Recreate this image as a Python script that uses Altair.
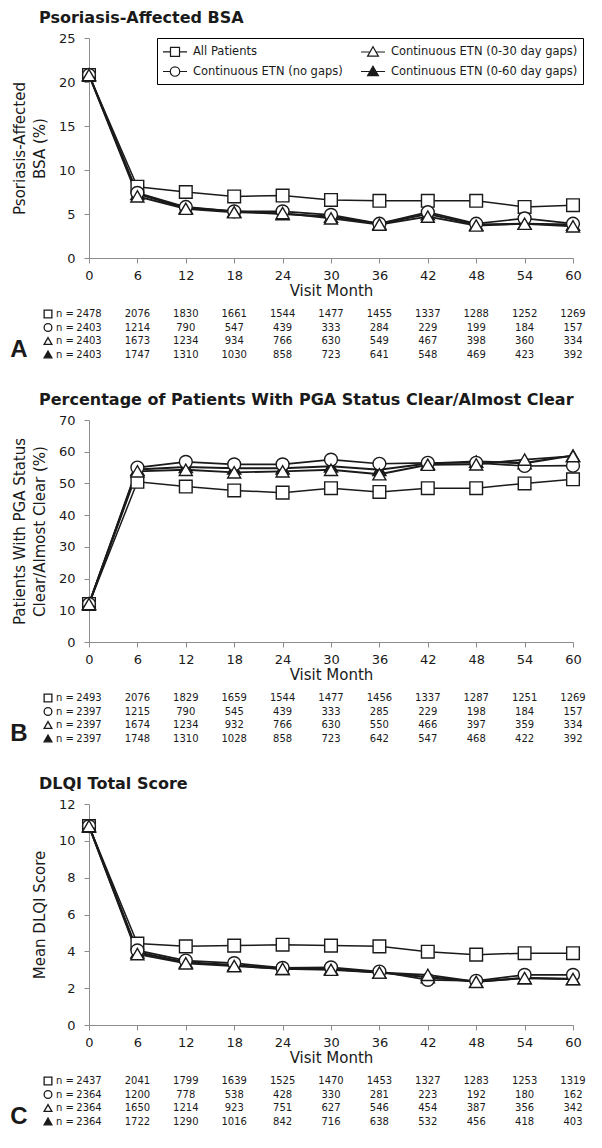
import altair as alt
import pandas as pd

FONT = "DejaVu Sans"
INK = "#1a1a1a"

months = [0, 6, 12, 18, 24, 30, 36, 42, 48, 54, 60]
series_names = ["All Patients", "Continuous ETN (no gaps)",
                "Continuous ETN (0-30 day gaps)", "Continuous ETN (0-60 day gaps)"]

# Panel A: Psoriasis-affected BSA (%)
bsa_all = [20.8, 8.1, 7.5, 7.0, 7.1, 6.6, 6.5, 6.5, 6.5, 5.8, 6.0]
bsa_nogap = [20.8, 7.4, 5.8, 5.3, 5.3, 4.9, 3.9, 5.2, 3.9, 4.5, 3.9]
bsa_030 = [20.8, 7.0, 5.6, 5.2, 5.1, 4.5, 3.8, 4.7, 3.7, 3.9, 3.6]
bsa_060 = [20.8, 7.3, 5.7, 5.3, 5.0, 4.7, 3.9, 5.0, 3.8, 3.9, 3.8]
n_a_all = [2478, 2076, 1830, 1661, 1544, 1477, 1455, 1337, 1288, 1252, 1269]
n_a_nogap = [2403, 1214, 790, 547, 439, 333, 284, 229, 199, 184, 157]
n_a_030 = [2403, 1673, 1234, 934, 766, 630, 549, 467, 398, 360, 334]
n_a_060 = [2403, 1747, 1310, 1030, 858, 723, 641, 548, 469, 423, 392]

# Panel B: PGA clear/almost clear (%)
pga_all = [12.0, 50.5, 49.0, 47.8, 47.1, 48.5, 47.3, 48.5, 48.5, 50.0, 51.3]
pga_nogap = [12.0, 55.0, 56.8, 56.0, 56.0, 57.5, 56.2, 56.5, 56.5, 55.5, 55.6]
pga_030 = [12.0, 53.8, 54.3, 53.5, 53.8, 54.3, 52.9, 55.9, 56.0, 57.5, 58.6]
pga_060 = [12.0, 54.4, 55.2, 54.8, 54.8, 55.4, 54.3, 56.3, 56.9, 56.4, 58.8]
n_b_all = [2493, 2076, 1829, 1659, 1544, 1477, 1456, 1337, 1287, 1251, 1269]
n_b_nogap = [2397, 1215, 790, 545, 439, 333, 285, 229, 198, 184, 157]
n_b_030 = [2397, 1674, 1234, 932, 766, 630, 550, 466, 397, 359, 334]
n_b_060 = [2397, 1748, 1310, 1028, 858, 723, 642, 547, 468, 422, 392]

# Panel C: DLQI total score
dlqi_all = [10.8, 4.42, 4.27, 4.31, 4.36, 4.31, 4.27, 3.98, 3.82, 3.9, 3.9]
dlqi_nogap = [10.8, 4.05, 3.5, 3.36, 3.1, 3.13, 2.9, 2.45, 2.4, 2.72, 2.72]
dlqi_030 = [10.8, 3.85, 3.35, 3.2, 3.05, 3.0, 2.85, 2.72, 2.35, 2.55, 2.5]
dlqi_060 = [10.8, 3.95, 3.4, 3.25, 3.05, 3.05, 2.85, 2.6, 2.35, 2.55, 2.5]
n_c_all = [2437, 2041, 1799, 1639, 1525, 1470, 1453, 1327, 1283, 1253, 1319]
n_c_nogap = [2364, 1200, 778, 538, 428, 330, 281, 223, 192, 180, 162]
n_c_030 = [2364, 1650, 1214, 923, 751, 627, 546, 454, 387, 356, 342]
n_c_060 = [2364, 1722, 1290, 1016, 842, 716, 638, 532, 456, 418, 403]

shape_range = ["square", "circle", "triangle-up", "triangle-up"]
fill_range = ["white", "white", "white", INK]
size_range = [160, 175, 205, 205]
draw_order = {series_names[0]: 0, series_names[3]: 1, series_names[1]: 2, series_names[2]: 3}

# legend symbols: line - marker - line (unit = half of symbol slot)
leg_paths = [
    "M-1,0H0M1.2,0H2.2M0,-0.6H1.2V0.6H0Z",
    "M-1,0H-0.03M1.23,0H2.2M1.23,0A0.63,0.63,0,1,1,-0.03,0A0.63,0.63,0,1,1,1.23,0Z",
    "M-1,0H0.2M1.0,0H2.2M0.6,-0.7L1.32,0.55H-0.12Z",
    "M-1,0H0.2M1.0,0H2.2M0.6,-0.7L1.32,0.55H-0.12Z",
]

PLOT_W = 484


def shape_scale():
    return alt.Scale(domain=series_names, range=shape_range)


def fill_scale():
    return alt.Scale(domain=series_names, range=fill_range)


def panel(vals, ns, title, ytitle, ymax, ystep, h, letter, with_legend):
    rows = []
    for s, v in zip(series_names, vals):
        for m, val in zip(months, v):
            rows.append({"month": m, "value": val, "series": s, "ord": draw_order[s]})
    df = pd.DataFrame(rows).sort_values(["ord", "month"])

    xenc = alt.X("month:Q", scale=alt.Scale(domain=[0, 60], nice=False, zero=False),
                 axis=alt.Axis(values=months, title="Visit Month", titleFontSize=15,
                               labelPadding=6, titlePadding=1, labelFlush=False,
                               labelOverlap=False))
    yenc = alt.Y("value:Q", scale=alt.Scale(domain=[0, ymax], nice=False),
                 axis=alt.Axis(values=list(range(0, ymax + 1, ystep)), title=ytitle,
                               labelPadding=9, titlePadding=11, labelOverlap=False))

    lines = alt.Chart(df).mark_line(color=INK).encode(
        x=xenc, y=yenc, detail="series:N",
        strokeWidth=alt.StrokeWidth("series:N", scale=alt.Scale(domain=series_names, range=[1.5, 2.1, 2.1, 2.1]), legend=None),
    )
    pts = alt.Chart(df).mark_point(filled=True, opacity=1, stroke=INK, strokeWidth=1.4).encode(
        x=xenc, y=yenc,
        shape=alt.Shape("series:N", scale=shape_scale(), legend=None),
        fill=alt.Fill("series:N", scale=fill_scale(), legend=None),
        size=alt.Size("series:N", scale=alt.Scale(domain=series_names, range=size_range), legend=None),
        order=alt.Order("ord:Q"),
    )
    layers = [lines, pts]

    if with_legend:
        legdf = pd.DataFrame({"series": series_names, "month": [-1] * 4, "value": [0] * 4})
        lg = dict(title=None, orient="none", legendX=68, legendY=0, columns=2, columnPadding=15,
                  rowPadding=4, padding=5, strokeColor="black", fillColor="white",
                  labelFont=FONT, labelFontSize=11.5, labelColor=INK, labelLimit=400, symbolSize=225,
                  labelOffset=14, symbolStrokeWidth=1.2, symbolStrokeColor=INK)
        leg = alt.Chart(legdf).mark_point(filled=True, opacity=1, strokeWidth=1.2).encode(
            x=xenc, y=yenc,
            shape=alt.Shape("series:N", scale=alt.Scale(domain=series_names, range=leg_paths),
                            legend=alt.Legend(**lg)),
            fill=alt.Fill("series:N", scale=alt.Scale(domain=series_names, range=fill_range),
                          legend=alt.Legend(**lg)),
            stroke=alt.Stroke("series:N", scale=alt.Scale(domain=series_names, range=[INK] * 4),
                              legend=alt.Legend(**lg)),
        ).transform_filter("datum.month >= 0")
        layers.append(leg)

    for i, (s, nv) in enumerate(zip(series_names, ns)):
        ypos = h + 56 + 13.5 * i
        d = pd.DataFrame({"month": months, "n": [str(v) for v in nv]})
        layers.append(alt.Chart(d).mark_text(font=FONT, fontSize=10, color=INK, baseline="middle").encode(
            x=xenc, y=alt.value(ypos), text="n:N"))
        pdf = pd.DataFrame({"month": [0], "series": [s], "lab": ["n ="]})
        layers.append(alt.Chart(pdf).mark_text(font=FONT, fontSize=10, color=INK, align="right",
                                               baseline="middle", dx=-15).encode(
            x=xenc, y=alt.value(ypos), text="lab:N"))
        layers.append(alt.Chart(pdf).mark_point(filled=True, opacity=1, stroke=INK, strokeWidth=1.3,
                                                size=60, xOffset=-41).encode(
            x=xenc, y=alt.value(ypos),
            shape=alt.Shape("series:N", scale=shape_scale(), legend=None),
            fill=alt.Fill("series:N", scale=fill_scale(), legend=None)))

    lt = alt.Chart(pd.DataFrame({"t": [letter]})).mark_text(
        font="Liberation Sans", fontSize=24, fontWeight="bold", color=INK, align="center",
        baseline="middle").encode(
        x=alt.value(-70), y=alt.value(h + 92), text="t:N")
    layers.append(lt)

    ch = alt.layer(*layers).resolve_scale(shape="independent", fill="independent",
                                          stroke="independent").properties(
        width=PLOT_W, height=h,
        title=alt.TitleParams(title, anchor="start", frame="group", dx=-50, fontSize=16, font=FONT,
                              fontWeight="bold", offset=6, color=INK))
    return ch


A = panel([bsa_all, bsa_nogap, bsa_030, bsa_060], [n_a_all, n_a_nogap, n_a_030, n_a_060],
          "Psoriasis-Affected BSA", ["Psoriasis-Affected", "BSA (%)"], 25, 5, 220, "A", True)
B = panel([pga_all, pga_nogap, pga_030, pga_060], [n_b_all, n_b_nogap, n_b_030, n_b_060],
          "Percentage of Patients With PGA Status Clear/Almost Clear",
          ["Patients With PGA Status", "Clear/Almost Clear (%)"], 70, 10, 222, "B", False)
C = panel([dlqi_all, dlqi_nogap, dlqi_030, dlqi_060], [n_c_all, n_c_nogap, n_c_030, n_c_060],
          "DLQI Total Score", "Mean DLQI Score", 12, 2, 221, "C", False)

chart = alt.vconcat(A, B, C, spacing=30).properties(
    padding={"left": 2, "top": 2, "right": 0, "bottom": -2}
).configure_view(stroke=None).configure_axis(
    grid=False, domainColor="#8c8c8c", tickColor="#8c8c8c", tickSize=5,
    labelFont=FONT, titleFont=FONT, labelFontSize=13, titleFontSize=15,
    labelColor=INK, titleColor=INK, titleFontWeight="normal", titleLineHeight=20
)

chart.save("out.html", embed_options={"renderer": "svg", "actions": False})
